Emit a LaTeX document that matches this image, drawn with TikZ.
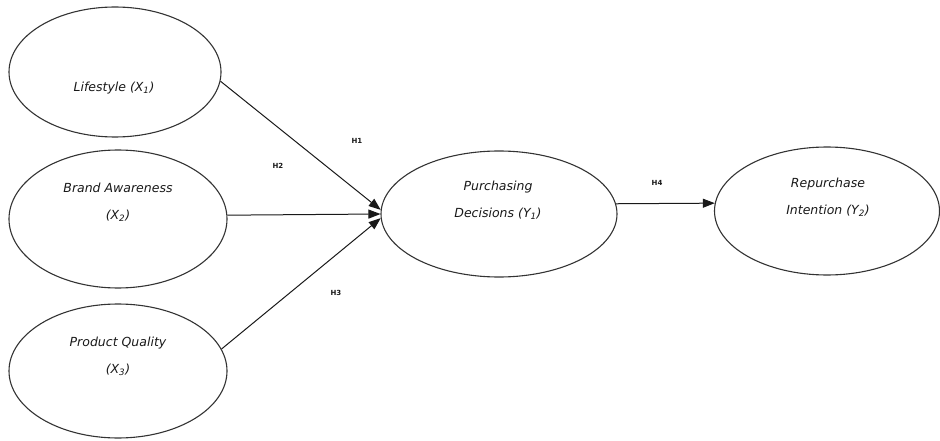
\documentclass[tikz,border=0pt]{standalone}
\usepackage{fontspec}
\setmainfont{DejaVu Sans}
\usetikzlibrary{shapes.geometric,arrows.meta}
\newcommand{\vsub}[1]{\textsubscript{#1}}
\begin{document}
\begin{tikzpicture}[x=1pt,y=-1pt,
  latent/.style={draw=black!80,line width=1.1pt,ellipse,inner sep=0pt},
  lbl/.style={font=\fontsize{12.5}{27}\selectfont\itshape,text=black!90,align=center,inner sep=0pt},
  hyp/.style={font=\fontsize{7}{8}\selectfont\bfseries,text=black!90,inner sep=0pt},
  path/.style={draw=black!90,line width=1pt,-{Triangle[length=12pt,width=9pt]}}]
\useasboundingbox (0,0) rectangle (940,441);
% ellipses
\node[latent,minimum width=212pt,minimum height=130pt] (L) at (115,72) {};
\node[latent,minimum width=218pt,minimum height=138pt] (B) at (118,219) {};
\node[latent,minimum width=218pt,minimum height=134pt] (Q) at (118,371) {};
\node[latent,minimum width=236pt,minimum height=126pt] (P) at (499,214) {};
\node[latent,minimum width=225pt,minimum height=128pt] (R) at (827,211) {};
% texts
\node[lbl] (tL) at (114,88) {Lifestyle (X\vsub{1})};
\node[lbl] (tB) at (118,202) {Brand Awareness\\(X\vsub{2})};
\node[lbl] (tQ) at (118,356) {Product Quality\\(X\vsub{3})};
\node[lbl] (tP) at (498,200) {Purchasing\\Decisions (Y\vsub{1})};
\node[lbl] (tR) at (828,197) {Repurchase\\Intention (Y\vsub{2})};
% hypothesis labels
\node[hyp] (h1) at (357,141) {H1};
\node[hyp] (h2) at (278,166) {H2};
\node[hyp] (h3) at (336,293) {H3};
\node[hyp] (h4) at (657,183) {H4};
% paths
\draw[path] (L.-5) -- (P.178);
\draw[path] (B.2.5) -- (P.west);
\draw[path] (Q.12) -- (P.182);
\draw[path] (P.5) -- (R.176);
\end{tikzpicture}
\end{document}
